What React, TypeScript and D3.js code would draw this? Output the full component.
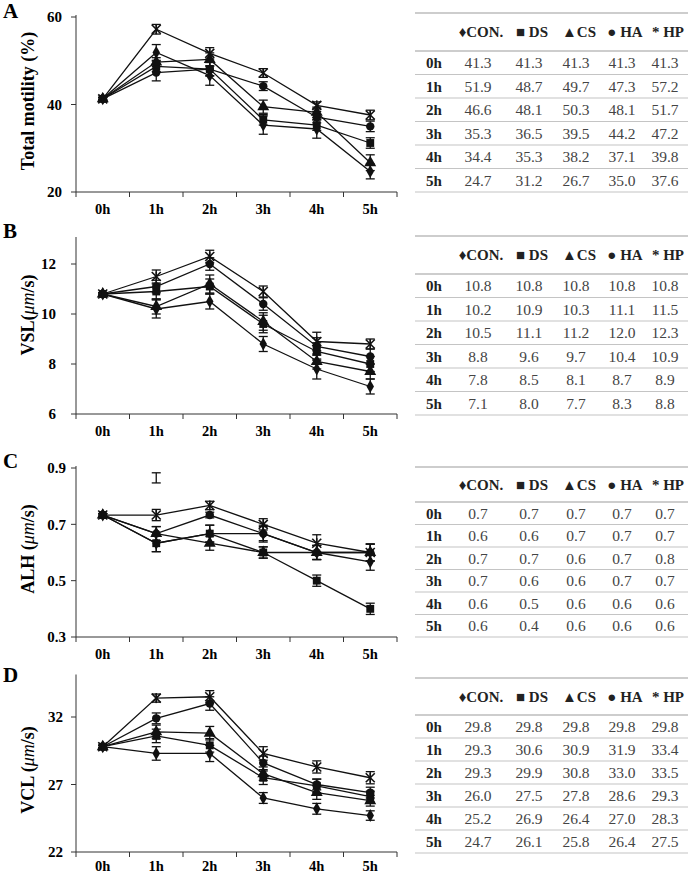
import React from 'react';
import * as d3 from 'd3';

// ---------- data ----------
const times = ['0h', '1h', '2h', '3h', '4h', '5h'];
const groupHeaders = ['♦CON.', '■ DS', '▲CS', '● HA', '* HP'];
const markerKinds = ['diamond', 'square', 'triangle', 'circle', 'star'];

// A: Total motility (%)
const motCON = [41.3, 51.9, 46.6, 35.3, 34.4, 24.7];
const motDS = [41.3, 48.7, 48.1, 36.5, 35.3, 31.2];
const motCS = [41.3, 49.7, 50.3, 39.5, 38.2, 26.7];
const motHA = [41.3, 47.3, 48.1, 44.2, 37.1, 35.0];
const motHP = [41.3, 57.2, 51.7, 47.2, 39.8, 37.6];
const motCONErr = [0.3, 1.8, 2.2, 2.1, 2.1, 1.7];
const motDSErr = [0.3, 1.2, 1.5, 1.2, 1.2, 1.2];
const motCSErr = [0.3, 1.0, 1.5, 1.5, 1.2, 1.8];
const motHAErr = [0.3, 1.9, 1.6, 1.0, 1.3, 1.2];
const motHPErr = [0.3, 1.1, 1.3, 1.0, 0.8, 1.1];
const motTicks = [20, 40, 60];

// B: VSL
const vslCON = [10.8, 10.2, 10.5, 8.8, 7.8, 7.1];
const vslDS = [10.8, 10.9, 11.1, 9.6, 8.5, 8.0];
const vslCS = [10.8, 10.3, 11.2, 9.7, 8.1, 7.7];
const vslHA = [10.8, 11.1, 12.0, 10.4, 8.7, 8.3];
const vslHP = [10.8, 11.5, 12.3, 10.9, 8.9, 8.8];
const vslCONErr = [0.05, 0.36, 0.3, 0.3, 0.4, 0.3];
const vslDSErr = [0.05, 0.3, 0.3, 0.35, 0.35, 0.3];
const vslCSErr = [0.05, 0.3, 0.36, 0.35, 0.3, 0.3];
const vslHAErr = [0.05, 0.25, 0.25, 0.25, 0.35, 0.3];
const vslHPErr = [0.05, 0.26, 0.25, 0.22, 0.37, 0.2];
const vslTicks = [6, 8, 10, 12];

// C: ALH
const alhCON = [0.733, 0.633, 0.667, 0.667, 0.6, 0.567];
const alhDS = [0.733, 0.633, 0.667, 0.6, 0.5, 0.4];
const alhCS = [0.733, 0.667, 0.633, 0.6, 0.6, 0.6];
const alhHA = [0.733, 0.667, 0.733, 0.667, 0.6, 0.6];
const alhHP = [0.733, 0.733, 0.767, 0.7, 0.633, 0.6];
const alhCONErr = [0.005, 0.03, 0.03, 0.025, 0.025, 0.03];
const alhDSErr = [0.005, 0.03, 0.03, 0.02, 0.02, 0.02];
const alhCSErr = [0.005, 0.025, 0.025, 0.02, 0.025, 0.03];
const alhHAErr = [0.005, 0.025, 0.01, 0.03, 0.025, 0.03];
const alhHPErr = [0.005, 0.02, 0.015, 0.02, 0.03, 0.03];
const alhTicks = [0.3, 0.5, 0.7, 0.9];
const alhStrayTime = '1h';
const alhStrayValue = 0.865;
const alhStrayErr = 0.018;

// D: VCL
const vclCON = [29.8, 29.3, 29.3, 26.0, 25.2, 24.7];
const vclDS = [29.8, 30.6, 29.9, 27.5, 26.9, 26.1];
const vclCS = [29.8, 30.9, 30.8, 27.8, 26.4, 25.8];
const vclHA = [29.8, 31.9, 33.0, 28.6, 27.0, 26.4];
const vclHP = [29.8, 33.4, 33.5, 29.3, 28.3, 27.5];
const vclCONErr = [0.1, 0.5, 0.6, 0.4, 0.4, 0.35];
const vclDSErr = [0.1, 0.5, 0.5, 0.5, 0.5, 0.4];
const vclCSErr = [0.1, 0.5, 0.5, 0.5, 0.5, 0.4];
const vclHAErr = [0.1, 0.4, 0.5, 0.5, 0.4, 0.4];
const vclHPErr = [0.1, 0.3, 0.45, 0.5, 0.45, 0.45];
const vclTicks = [22, 27, 32];

// ---------- layout ----------
const FONT = "'Liberation Serif', 'Times New Roman', serif";
const X0 = 76;
const X1 = 397;

type Panel = {
  letter: string;
  letterY: number;
  titlePre: string;
  titleItalic?: string;
  titlePost?: string;
  titleY: number;
  domain: [number, number];
  ticks: number[];
  fmt: (v: number) => string;
  yBottom: number;
  yTop: number;
  tickLabelX: number;
  xLabelOff: number;
  tableTop: number;
  tableHeader: number;
  tableBottom: number;
  values: number[][];
  errors: number[][];
  stray?: { time: string; value: number; err: number };
};

const panels: Panel[] = [
  {
    letter: 'A', letterY: 18, titlePre: 'Total motility (%)', titleY: 101,
    domain: [20, 60], ticks: motTicks, fmt: (v) => String(v),
    yBottom: 192, yTop: 17, tickLabelX: 62, xLabelOff: 22,
    tableTop: 13, tableHeader: 51, tableBottom: 192,
    values: [motCON, motDS, motCS, motHA, motHP],
    errors: [motCONErr, motDSErr, motCSErr, motHAErr, motHPErr],
  },
  {
    letter: 'B', letterY: 238, titlePre: 'VSL(', titleItalic: 'μm', titlePost: '/s)', titleY: 315,
    domain: [6, 13], ticks: vslTicks, fmt: (v) => String(v),
    yBottom: 414, yTop: 239, tickLabelX: 56, xLabelOff: 22,
    tableTop: 236, tableHeader: 274, tableBottom: 415,
    values: [vslCON, vslDS, vslCS, vslHA, vslHP],
    errors: [vslCONErr, vslDSErr, vslCSErr, vslHAErr, vslHPErr],
  },
  {
    letter: 'C', letterY: 468, titlePre: 'ALH (', titleItalic: 'μm', titlePost: '/s)', titleY: 549,
    domain: [0.3, 0.9], ticks: alhTicks, fmt: (v) => v.toFixed(1),
    yBottom: 637, yTop: 468, tickLabelX: 66, xLabelOff: 22,
    tableTop: 467, tableHeader: 502, tableBottom: 637,
    values: [alhCON, alhDS, alhCS, alhHA, alhHP],
    errors: [alhCONErr, alhDSErr, alhCSErr, alhHAErr, alhHPErr],
    stray: { time: alhStrayTime, value: alhStrayValue, err: alhStrayErr },
  },
  {
    letter: 'D', letterY: 682, titlePre: 'VCL (', titleItalic: 'μm', titlePost: '/s)', titleY: 770,
    domain: [22, 35], ticks: vclTicks, fmt: (v) => String(v),
    yBottom: 852, yTop: 676.5, tickLabelX: 63, xLabelOff: 19,
    tableTop: 678, tableHeader: 715, tableBottom: 853,
    values: [vclCON, vclDS, vclCS, vclHA, vclHP],
    errors: [vclCONErr, vclDSErr, vclCSErr, vclHAErr, vclHPErr],
  },
];

const tableX0 = 415;
const tableX1 = 688;
const rowLabelX = 426;
const colCenters = [478, 529, 576, 622, 665];
const headerCenters = [481, 532, 579, 625, 668];

const xScale = d3.scaleBand<string>().domain(times).range([X0, X1]).padding(0);

const symbolPaths: Record<string, string> = {
  diamond: d3.symbol(d3.symbolDiamond, 48)() as string,
  square: d3.symbol(d3.symbolSquare, 62)() as string,
  triangle: d3.symbol(d3.symbolTriangle, 62)() as string,
  circle: d3.symbol(d3.symbolCircle, 56)() as string,
};

function Marker({ kind, x, y }: { kind: string; x: number; y: number }) {
  if (kind === 'star') {
    const r = 4.5;
    return (
      <g transform={`translate(${x},${y})`} stroke="#111" strokeWidth={1.6} fill="none">
        <line x1={-r} y1={-r} x2={r} y2={r} />
        <line x1={-r} y1={r} x2={r} y2={-r} />
        <line x1={0} y1={-r - 0.5} x2={0} y2={r + 0.5} />
      </g>
    );
  }
  return <path d={symbolPaths[kind]} transform={`translate(${x},${y})`} fill="#111" />;
}

function ErrorBar({ x, y1, y2 }: { x: number; y1: number; y2: number }) {
  const c = 4.5;
  return (
    <g stroke="#111" strokeWidth={1.3}>
      <line x1={x} x2={x} y1={y1} y2={y2} />
      <line x1={x - c} x2={x + c} y1={y1} y2={y1} />
      <line x1={x - c} x2={x + c} y1={y2} y2={y2} />
    </g>
  );
}

function PanelChart({ p }: { p: Panel }) {
  const y = d3.scaleLinear().domain(p.domain).range([p.yBottom, p.yTop]);
  const cx = (t: string) => (xScale(t) as number) + xScale.bandwidth() / 2;
  const line = d3
    .line<number>()
    .x((_, i) => cx(times[i]))
    .y((v) => y(v));
  const boundaries = [...times.map((t) => xScale(t) as number), X1];
  const rowH = (p.tableBottom - p.tableHeader) / times.length;

  return (
    <g>
      <text x={3} y={p.letterY} fontFamily={FONT} fontWeight="bold" fontSize={21}>
        {p.letter}
      </text>
      <text
        transform={`translate(34,${p.titleY}) rotate(-90)`}
        textAnchor="middle"
        fontFamily={FONT}
        fontWeight="bold"
        fontSize={18}
      >
        {p.titlePre}
        {p.titleItalic ? <tspan fontStyle="italic" fontWeight="normal">{p.titleItalic}</tspan> : null}
        {p.titlePost ? <tspan>{p.titlePost}</tspan> : null}
      </text>
      <line x1={X0} x2={X0} y1={p.yTop - 2} y2={p.yBottom} stroke="#333" strokeWidth={1} />
      <line x1={X0} x2={X1} y1={p.yBottom} y2={p.yBottom} stroke="#333" strokeWidth={1} />
      {p.ticks.map((t) => (
        <g key={t}>
          <line x1={X0 - 5} x2={X0} y1={y(t)} y2={y(t)} stroke="#333" />
          <text
            x={p.tickLabelX}
            y={y(t)}
            dy="0.35em"
            textAnchor="end"
            fontFamily={FONT}
            fontWeight="bold"
            fontSize={15}
          >
            {p.fmt(t)}
          </text>
        </g>
      ))}
      {boundaries.map((b, i) => (
        <line key={i} x1={b} x2={b} y1={p.yBottom} y2={p.yBottom + 5} stroke="#333" />
      ))}
      {times.map((t) => (
        <text
          key={t}
          x={cx(t)}
          y={p.yBottom + p.xLabelOff}
          textAnchor="middle"
          fontFamily={FONT}
          fontWeight="bold"
          fontSize={14.5}
        >
          {t}
        </text>
      ))}
      {p.values.map((vals, si) => (
        <path key={si} d={line(vals) as string} fill="none" stroke="#111" strokeWidth={1.3} />
      ))}
      {p.values.map((vals, si) =>
        vals.map((v, i) => (
          <ErrorBar
            key={`${si}-${i}`}
            x={cx(times[i])}
            y1={y(v + p.errors[si][i])}
            y2={y(v - p.errors[si][i])}
          />
        ))
      )}
      {p.stray ? (
        <ErrorBar
          x={cx(p.stray.time)}
          y1={y(p.stray.value + p.stray.err)}
          y2={y(p.stray.value - p.stray.err)}
        />
      ) : null}
      {p.values.map((vals, si) =>
        vals.map((v, i) => <Marker key={`${si}-${i}`} kind={markerKinds[si]} x={cx(times[i])} y={y(v)} />)
      )}
      <line x1={tableX0} x2={tableX1} y1={p.tableTop} y2={p.tableTop} stroke="#bdbdbd" strokeWidth={1.6} />
      <line x1={tableX0} x2={tableX1} y1={p.tableHeader} y2={p.tableHeader} stroke="#bdbdbd" strokeWidth={1.6} />
      {times.map((_, i) => (
        <line
          key={i}
          x1={tableX0}
          x2={tableX1}
          y1={p.tableHeader + rowH * (i + 1)}
          y2={p.tableHeader + rowH * (i + 1)}
          stroke="#c4c4c4"
          strokeWidth={1.2}
        />
      ))}
      {groupHeaders.map((h, gi) => (
        <text
          key={h}
          x={headerCenters[gi]}
          y={(p.tableTop + p.tableHeader) / 2}
          dy="0.35em"
          textAnchor="middle"
          fontFamily={FONT}
          fontWeight="bold"
          fontSize={15}
          fill="#222"
        >
          {h}
        </text>
      ))}
      {times.map((t, i) => {
        const ry = p.tableHeader + rowH * (i + 0.5);
        return (
          <g key={t}>
            <text x={rowLabelX} y={ry} dy="0.35em" fontFamily={FONT} fontWeight="bold" fontSize={15} fill="#222">
              {t}
            </text>
            {p.values.map((vals, si) => (
              <text
                key={si}
                x={colCenters[si]}
                y={ry}
                dy="0.35em"
                textAnchor="middle"
                fontFamily={FONT}
                fontSize={15.5}
                fill="#444"
              >
                {vals[i].toFixed(1)}
              </text>
            ))}
          </g>
        );
      })}
    </g>
  );
}

export default function App() {
  return (
    <svg
      width={689}
      height={876}
      style={{ position: 'absolute', left: 0, top: 0, background: '#fff' }}
    >
      <rect width={689} height={876} fill="#fff" />
      {panels.map((p) => (
        <PanelChart key={p.letter} p={p} />
      ))}
    </svg>
  );
}
